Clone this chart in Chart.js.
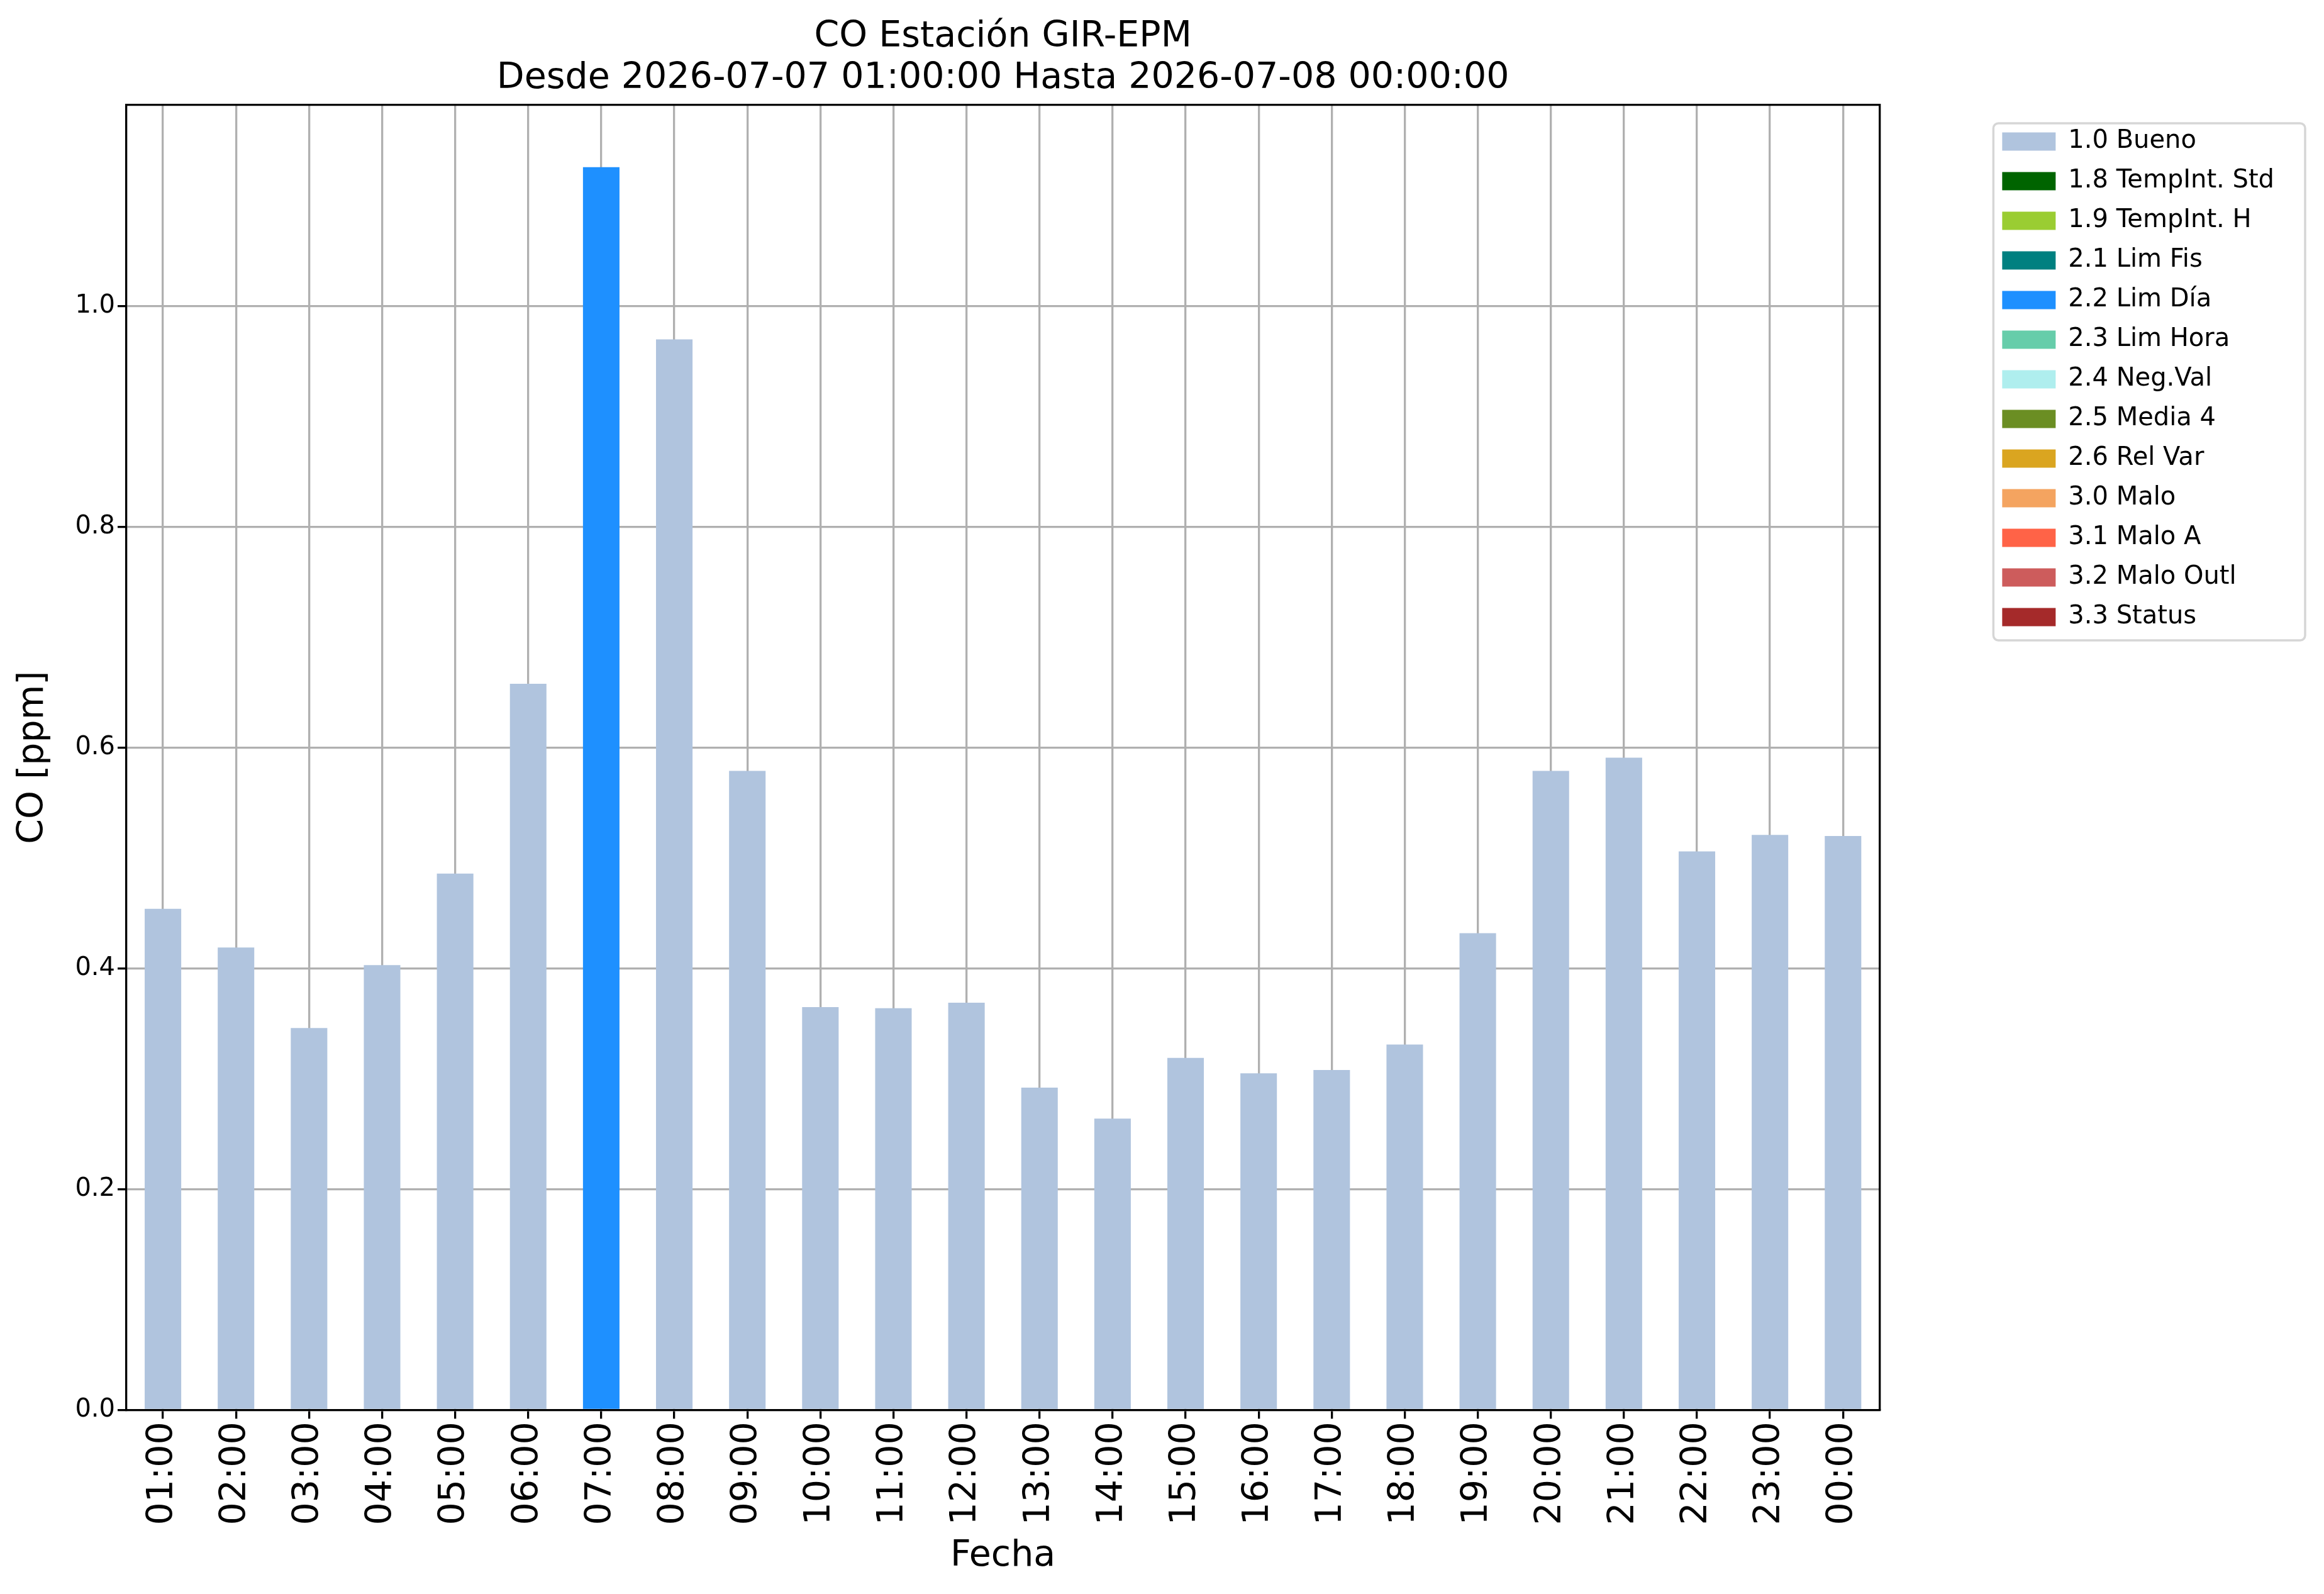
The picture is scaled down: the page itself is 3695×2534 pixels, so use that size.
<!DOCTYPE html>
<html>
<head>
<meta charset="utf-8">
<script src="https://cdn.jsdelivr.net/npm/chart.js@4.4.1/dist/chart.umd.min.js"></script>
<style>
html,body{margin:0;padding:0;background:#ffffff;}
canvas{display:block;}
</style>
</head>
<body>
<canvas id="c" width="3695" height="2534" style="width:3695px;height:2534px"></canvas>
<script>
// ---- data ----
const hours = ['01:00','02:00','03:00','04:00','05:00','06:00','07:00','08:00','09:00','10:00','11:00','12:00',
               '13:00','14:00','15:00','16:00','17:00','18:00','19:00','20:00','21:00','22:00','23:00','00:00'];

const buenoValues = [0.454,0.419,0.346,0.403,0.486,0.658,null,0.970,0.579,0.365,0.364,0.369,
                     0.292,0.264,0.319,0.305,0.308,0.331,0.432,0.579,0.591,0.506,0.521,0.520];

const limDiaValues = [null,null,null,null,null,null,1.126,null,null,null,null,null,
                      null,null,null,null,null,null,null,null,null,null,null,null];

const emptyValues = [null,null,null,null,null,null,null,null,null,null,null,null,
                     null,null,null,null,null,null,null,null,null,null,null,null];

const flagNames = ['1.0 Bueno','1.8 TempInt. Std','1.9 TempInt. H','2.1 Lim Fis','2.2 Lim Día','2.3 Lim Hora',
                   '2.4 Neg.Val','2.5 Media 4','2.6 Rel Var','3.0 Malo','3.1 Malo A','3.2 Malo Outl','3.3 Status'];

const flagColors = ['#B0C4DE','#006400','#9ACD32','#008080','#1E90FF','#66CDAA',
                    '#AFEEEE','#6B8E23','#DAA520','#F4A460','#FF6347','#CD5C5C','#A52A2A'];

const seriesByFlag = {'1.0 Bueno': buenoValues, '2.2 Lim Día': limDiaValues};

const yTickStep = 0.2;
const yMax = 1.1823;

const titleLines = ['CO Estación GIR-EPM', 'Desde 2026-07-07 01:00:00 Hasta 2026-07-08 00:00:00'];
const xTitle = 'Fecha';
const yTitle = 'CO [ppm]';

// ---- chart ----
const FONT = "'DejaVu Sans', 'Liberation Sans', sans-serif";
Chart.defaults.font.family = FONT;
Chart.defaults.color = '#000000';

const datasets = flagNames.map((name, i) => ({
  label: name,
  data: seriesByFlag[name] || emptyValues,
  backgroundColor: flagColors[i],
  borderWidth: 0,
  xAxisID: 'x',
  yAxisID: 'y',
  categoryPercentage: 1.0,
  barPercentage: 0.5
}));

const legendFrame = {
  id: 'legendFrame',
  afterDraw(chart) {
    const lg = chart.legend;
    if (!lg || !lg.legendHitBoxes || !lg.legendHitBoxes.length) return;
    const hb = lg.legendHitBoxes;
    const first = hb[0], last = hb[hb.length - 1];
    const maxRight = Math.max(...hb.map(h => h.left + h.width));
    const x0 = first.left - 14;
    const y0 = first.top + first.height / 2 - 29;
    const x1 = maxRight + 49;
    const y1 = last.top + last.height / 2 + 37;
    const ctx = chart.ctx;
    ctx.save();
    ctx.strokeStyle = '#d6d6d6';
    ctx.lineWidth = 3.5;
    ctx.beginPath();
    if (ctx.roundRect) ctx.roundRect(x0, y0, x1 - x0, y1 - y0, 8);
    else ctx.rect(x0, y0, x1 - x0, y1 - y0);
    ctx.stroke();
    ctx.restore();
  }
};

new Chart(document.getElementById('c'), {
  type: 'bar',
  data: { labels: hours, datasets: datasets },
  plugins: [legendFrame],
  options: {
    responsive: false,
    devicePixelRatio: 1,
    animation: false,
    layout: { padding: { left: 7, right: 69, top: 0, bottom: 0 } },
    plugins: {
      tooltip: { enabled: false },
      title: {
        display: true,
        text: titleLines,
        position: 'top',
        fullSize: false,
        align: 'center',
        color: '#000000',
        font: { family: FONT, size: 57, weight: 'normal', lineHeight: 66 / 57 },
        padding: { top: 26, bottom: 9 }
      },
      legend: {
        display: true,
        position: 'right',
        align: 'start',
        fullSize: false,
        title: { display: true, text: '', font: { size: 10, lineHeight: 1 }, padding: { top: 5, bottom: 0 } },
        labels: {
          color: '#000000',
          font: { family: FONT, size: 40 },
          boxWidth: 85,
          boxHeight: 29,
          padding: 23
        }
      }
    },
    scales: {
      x: {
        type: 'category',
        position: 'bottom',
        stacked: true,
        offset: true,
        z: 1,
        grid: {
          display: true,
          offset: false,
          color: '#b0b0b0',
          lineWidth: 3.3,
          drawTicks: true,
          tickLength: 14,
          tickColor: '#000000',
          tickWidth: 3.3
        },
        border: { display: true, color: '#000000', width: 3.3 },
        ticks: {
          autoSkip: false,
          maxRotation: 90,
          minRotation: 90,
          padding: 5,
          color: '#000000',
          font: { family: FONT, size: 57 }
        },
        title: {
          display: true,
          text: xTitle,
          color: '#000000',
          font: { family: FONT, size: 57, lineHeight: 1.2 },
          padding: { top: 10, bottom: 26 }
        }
      },
      y: {
        type: 'linear',
        position: 'left',
        stacked: true,
        min: 0,
        max: yMax,
        z: 1,
        grid: {
          display: true,
          color: '#b0b0b0',
          lineWidth: 3.3,
          drawTicks: true,
          tickLength: 14,
          tickColor: '#000000',
          tickWidth: 3.3
        },
        border: { display: true, color: '#000000', width: 3.3 },
        ticks: {
          stepSize: yTickStep,
          includeBounds: false,
          padding: 4,
          color: '#000000',
          font: { family: FONT, size: 40 },
          callback: (v) => Number(v).toFixed(1)
        },
        title: {
          display: true,
          text: yTitle,
          color: '#000000',
          font: { family: FONT, size: 57, lineHeight: 1.2 },
          padding: { top: 12, bottom: 28 }
        }
      },
      yRight: {
        type: 'linear',
        axis: 'y',
        position: 'right',
        display: true,
        grid: { display: false, drawTicks: false },
        ticks: { display: false },
        border: { display: true, color: '#000000', width: 3.3 },
        afterFit: (s) => { s.width = 172; }
      },
      xTop: {
        type: 'linear',
        axis: 'x',
        position: 'top',
        display: true,
        grid: { display: false, drawTicks: false },
        ticks: { display: false },
        border: { display: true, color: '#000000', width: 3.3 },
        afterFit: (s) => { s.height = 0; }
      }
    }
  }
});
</script>
</body>
</html>
